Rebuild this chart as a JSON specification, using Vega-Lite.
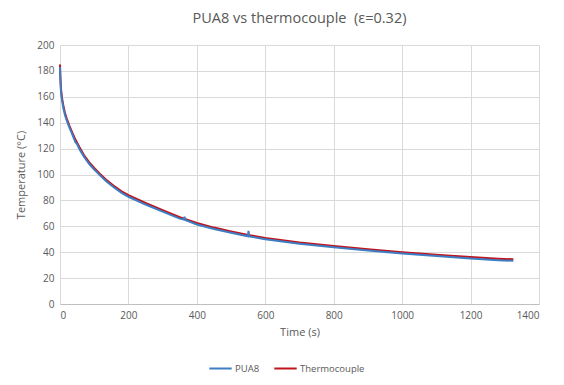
{
  "$schema": "https://vega.github.io/schema/vega-lite/v6.json",
  "autosize": {"type": "none"},
  "width": 479,
  "height": 259,
  "padding": {"left": 60, "top": 45, "right": 25, "bottom": 81},
  "background": "white",
  "title": {
    "text": "PUA8 vs thermocouple\u00a0\u00a0(ε=0.32)",
    "font": "Open Sans",
    "fontSize": 14.5,
    "fontWeight": "normal",
    "color": "#595959",
    "anchor": "middle",
    "offset": 14
  },
  "config": {
    "view": {"stroke": null},
    "axis": {
      "labelFont": "Open Sans",
      "labelFontSize": 10,
      "labelColor": "#595959",
      "titleFont": "Open Sans",
      "titleFontSize": 11,
      "titleFontWeight": "normal",
      "titleColor": "#595959",
      "gridColor": "#d9d9d9",
      "gridWidth": 1,
      "ticks": false,
      "domainColor": "#bfbfbf"
    },
    "legend": {
      "labelFont": "Open Sans",
      "labelFontSize": 9.5,
      "labelColor": "#595959"
    }
  },
  "data": {
    "values": [
      {"t": 0, "T": 185, "s": "Thermocouple"},
      {"t": 1, "T": 176, "s": "Thermocouple"},
      {"t": 3, "T": 166, "s": "Thermocouple"},
      {"t": 6, "T": 159, "s": "Thermocouple"},
      {"t": 10, "T": 153, "s": "Thermocouple"},
      {"t": 15, "T": 147, "s": "Thermocouple"},
      {"t": 20, "T": 143, "s": "Thermocouple"},
      {"t": 27, "T": 138, "s": "Thermocouple"},
      {"t": 35, "T": 133, "s": "Thermocouple"},
      {"t": 45, "T": 127, "s": "Thermocouple"},
      {"t": 57, "T": 121, "s": "Thermocouple"},
      {"t": 70, "T": 115, "s": "Thermocouple"},
      {"t": 85, "T": 109.5, "s": "Thermocouple"},
      {"t": 100, "T": 105, "s": "Thermocouple"},
      {"t": 117, "T": 100.5, "s": "Thermocouple"},
      {"t": 135, "T": 96, "s": "Thermocouple"},
      {"t": 156, "T": 91.5, "s": "Thermocouple"},
      {"t": 180, "T": 87, "s": "Thermocouple"},
      {"t": 200, "T": 84, "s": "Thermocouple"},
      {"t": 250, "T": 78, "s": "Thermocouple"},
      {"t": 300, "T": 72.5, "s": "Thermocouple"},
      {"t": 350, "T": 67, "s": "Thermocouple"},
      {"t": 400, "T": 62.5, "s": "Thermocouple"},
      {"t": 450, "T": 59, "s": "Thermocouple"},
      {"t": 500, "T": 56, "s": "Thermocouple"},
      {"t": 550, "T": 53.3, "s": "Thermocouple"},
      {"t": 600, "T": 51, "s": "Thermocouple"},
      {"t": 700, "T": 47.5, "s": "Thermocouple"},
      {"t": 800, "T": 44.8, "s": "Thermocouple"},
      {"t": 900, "T": 42.2, "s": "Thermocouple"},
      {"t": 1000, "T": 40, "s": "Thermocouple"},
      {"t": 1100, "T": 38, "s": "Thermocouple"},
      {"t": 1200, "T": 36.2, "s": "Thermocouple"},
      {"t": 1280, "T": 35, "s": "Thermocouple"},
      {"t": 1325, "T": 34.5, "s": "Thermocouple"},
      {"t": 0, "T": 183, "s": "PUA8"},
      {"t": 1, "T": 173, "s": "PUA8"},
      {"t": 3, "T": 163, "s": "PUA8"},
      {"t": 6, "T": 157, "s": "PUA8"},
      {"t": 10, "T": 151, "s": "PUA8"},
      {"t": 15, "T": 145.5, "s": "PUA8"},
      {"t": 20, "T": 141.5, "s": "PUA8"},
      {"t": 27, "T": 136.5, "s": "PUA8"},
      {"t": 35, "T": 131.5, "s": "PUA8"},
      {"t": 45, "T": 125, "s": "PUA8"},
      {"t": 50, "T": 123.5, "s": "PUA8"},
      {"t": 57, "T": 119.5, "s": "PUA8"},
      {"t": 70, "T": 113.8, "s": "PUA8"},
      {"t": 85, "T": 108.3, "s": "PUA8"},
      {"t": 100, "T": 103.8, "s": "PUA8"},
      {"t": 117, "T": 99.3, "s": "PUA8"},
      {"t": 135, "T": 94.8, "s": "PUA8"},
      {"t": 156, "T": 90.3, "s": "PUA8"},
      {"t": 180, "T": 85.8, "s": "PUA8"},
      {"t": 200, "T": 82.8, "s": "PUA8"},
      {"t": 250, "T": 76.8, "s": "PUA8"},
      {"t": 300, "T": 71.3, "s": "PUA8"},
      {"t": 350, "T": 65.9, "s": "PUA8"},
      {"t": 362, "T": 65.2, "s": "PUA8"},
      {"t": 364, "T": 67.4, "s": "PUA8"},
      {"t": 366, "T": 64.9, "s": "PUA8"},
      {"t": 400, "T": 61.4, "s": "PUA8"},
      {"t": 450, "T": 57.9, "s": "PUA8"},
      {"t": 500, "T": 55, "s": "PUA8"},
      {"t": 549, "T": 52.3, "s": "PUA8"},
      {"t": 551, "T": 56.4, "s": "PUA8"},
      {"t": 553, "T": 52.2, "s": "PUA8"},
      {"t": 600, "T": 50, "s": "PUA8"},
      {"t": 700, "T": 46.5, "s": "PUA8"},
      {"t": 800, "T": 43.9, "s": "PUA8"},
      {"t": 900, "T": 41.3, "s": "PUA8"},
      {"t": 1000, "T": 39, "s": "PUA8"},
      {"t": 1100, "T": 37, "s": "PUA8"},
      {"t": 1200, "T": 35.1, "s": "PUA8"},
      {"t": 1280, "T": 33.8, "s": "PUA8"},
      {"t": 1325, "T": 33.4, "s": "PUA8"}
    ]
  },
  "mark": {"type": "line", "strokeWidth": 2},
  "encoding": {
    "x": {
      "field": "t",
      "type": "quantitative",
      "scale": {"domain": [0, 1400], "nice": false},
      "axis": {"title": "Time (s)", "format": "d", "values": [0, 200, 400, 600, 800, 1000, 1200, 1400], "labelPadding": 6, "titlePadding": 6, "domain": true}
    },
    "y": {
      "field": "T",
      "type": "quantitative",
      "scale": {"domain": [0, 200], "nice": false},
      "axis": {"title": "Temperature (°C)", "format": "d", "values": [0, 20, 40, 60, 80, 100, 120, 140, 160, 180, 200], "labelPadding": 6, "titlePadding": 10, "domain": false}
    },
    "color": {
      "field": "s",
      "type": "nominal",
      "scale": {"domain": ["PUA8", "Thermocouple"], "range": ["#3C7DC4", "#C0141C"]},
      "legend": {
        "title": null,
        "orient": "none",
        "direction": "horizontal",
        "legendX": 148,
        "legendY": 311,
        "symbolType": "stroke",
        "symbolSize": 500,
        "symbolStrokeWidth": 2,
        "columnPadding": 10,
        "labelOffset": 2
      }
    }
  }
}
